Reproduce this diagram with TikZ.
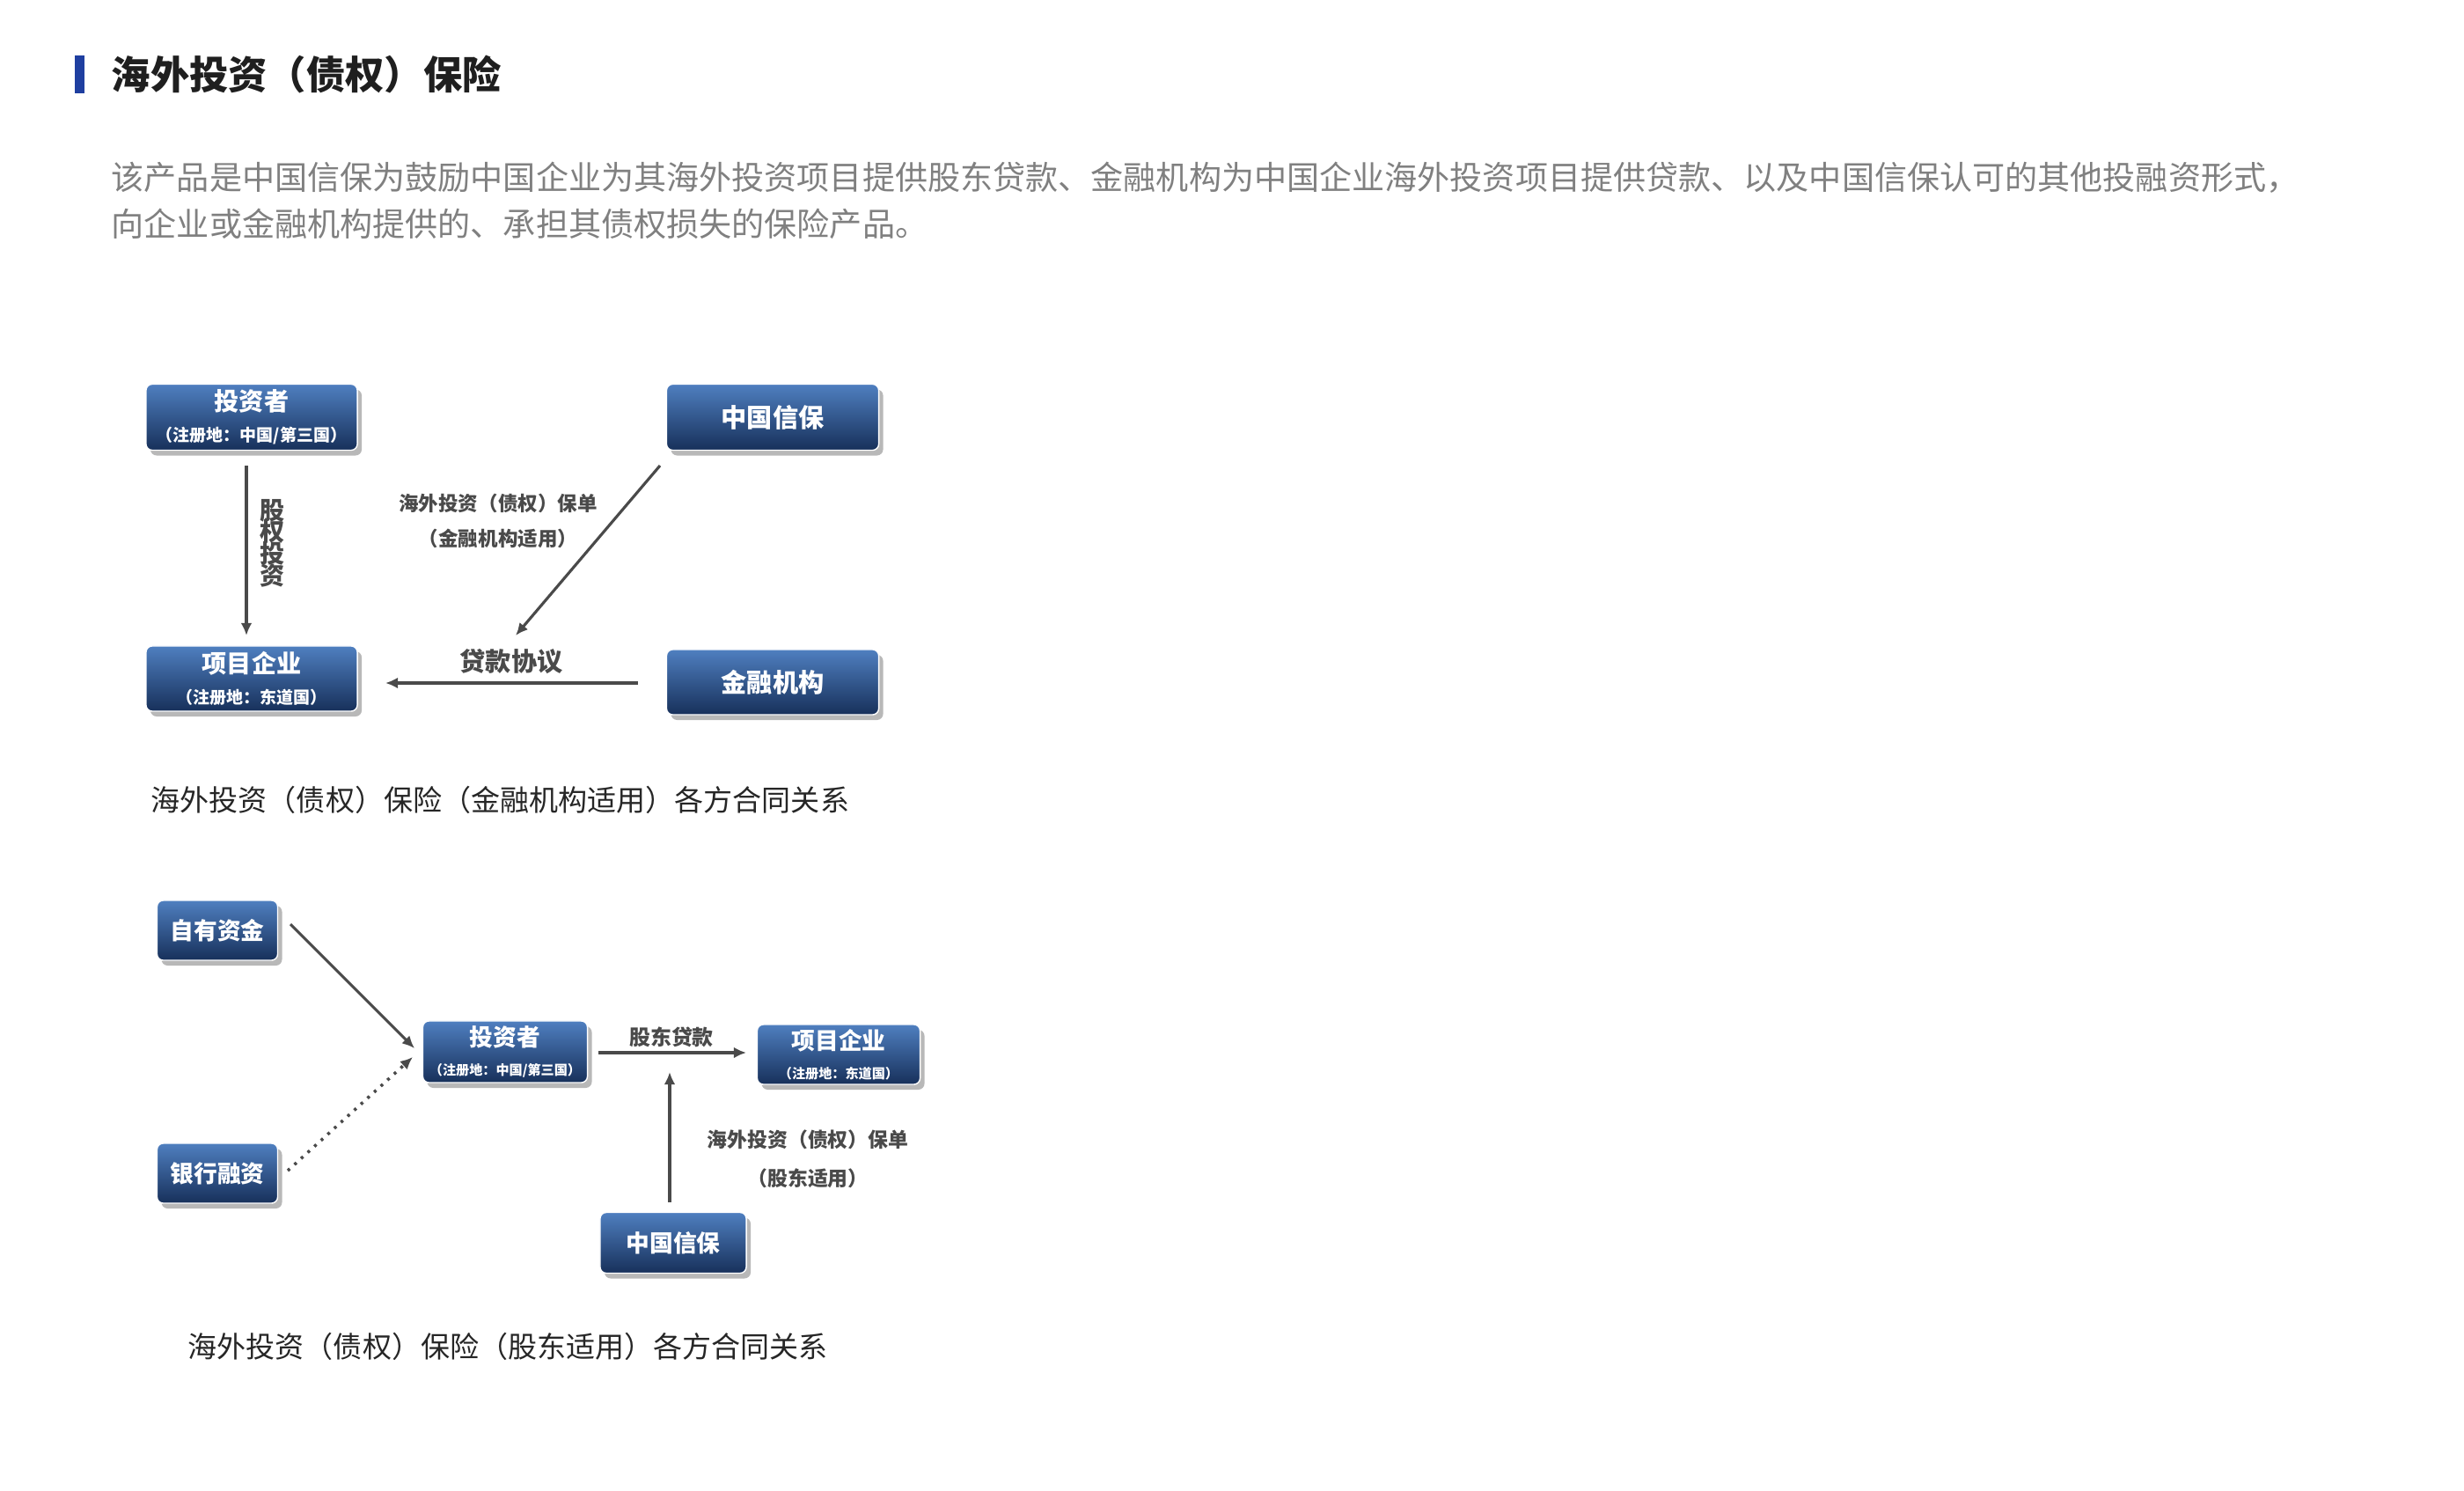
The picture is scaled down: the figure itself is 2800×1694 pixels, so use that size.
\documentclass[tikz,border=0pt]{standalone}
\usepackage{fontspec}
\setmainfont{Noto Sans CJK SC}
\usetikzlibrary{arrows.meta,shadows}
\newcommand{\myfs}[1]{\fontsize{#1}{1.2\dimexpr#1\relax}\selectfont}
\definecolor{boxtop}{HTML}{4F7FC0}
\definecolor{boxbot}{HTML}{17305A}
\definecolor{lab}{HTML}{4A4A4A}
\tikzset{
  bx/.style={rounded corners=2pt, top color=boxtop, bottom color=boxbot, draw=white, line width=0.4pt,
    text=white, align=center, inner sep=0pt,
    drop shadow={shadow xshift=0.05cm, shadow yshift=-0.06cm, fill=black!35, opacity=0.8}},
  arr/.style={draw=lab, line width=0.9pt, -{Latex[length=4pt,width=3.6pt]}},
  lbl/.style={text=lab, align=center, inner sep=0pt},
  captxt/.style={text=black!85, anchor=west, inner sep=0pt}
}
\begin{document}
\begin{tikzpicture}[x=0.01cm,y=-0.01cm]
\useasboundingbox (0,0) rectangle (2800,1694);
% header
\fill[fill={rgb,255:red,31;green,63;blue,160}] (85,63) rectangle (96,106);
\node[captxt, text=black!88, font=\bfseries\myfs{12.6pt}] (title) at (126,85) {海外投资（债权）保险};
\node[captxt, text=black!50, font=\myfs{10.55pt}] (p1) at (126,202) {该产品是中国信保为鼓励中国企业为其海外投资项目提供股东贷款、金融机构为中国企业海外投资项目提供贷款、以及中国信保认可的其他投融资形式，};
\node[captxt, text=black!50, font=\myfs{10.55pt}] (p2) at (126,254) {向企业或金融机构提供的、承担其债权损失的保险产品。};
% top diagram
\node[bx, minimum width=2.40cm, minimum height=0.75cm] (a1) at (286,474) {{\bfseries\myfs{8pt}投资者}\\[-2pt]{\bfseries\myfs{5.4pt}（注册地：中国/第三国）}};
\node[bx, minimum width=2.41cm, minimum height=0.75cm] (a2) at (878,474) {{\bfseries\myfs{8.3pt}中国信保}};
\node[bx, minimum width=2.40cm, minimum height=0.74cm] (a3) at (286,771) {{\bfseries\myfs{8pt}项目企业}\\[-2pt]{\bfseries\myfs{5.4pt}（注册地：东道国）}};
\node[bx, minimum width=2.41cm, minimum height=0.74cm] (a4) at (878,775) {{\bfseries\myfs{8.3pt}金融机构}};
\coordinate (e1s) at (280,529); \coordinate (e1e) at (280,722);
\coordinate (e2s) at (750,529); \coordinate (e2e) at (586,722);
\coordinate (e3s) at (725,776); \coordinate (e3e) at (438,776);
\draw[arr] (e1s) -- (e1e);
\draw[arr] (e2s) -- (e2e);
\draw[arr] (e3s) -- (e3e);
\node[lbl, font=\bfseries\myfs{8pt}] (l1) at (310,617) {股\\[-2.6pt]权\\[-2.6pt]投\\[-2.6pt]资};
\node[lbl, font=\bfseries\myfs{6.4pt}] (l2) at (566,572) {海外投资（债权）保单};
\node[lbl, font=\bfseries\myfs{6.4pt}] (l3) at (566,612) {（金融机构适用）};
\node[lbl, font=\bfseries\myfs{8.3pt}] (l4) at (581,752) {贷款协议};
\node[captxt, font=\myfs{9.4pt}] (c1) at (171,909) {海外投资（债权）保险（金融机构适用）各方合同关系};
% bottom diagram
\node[bx, minimum width=1.37cm, minimum height=0.68cm] (b1) at (247,1057) {{\bfseries\myfs{7.6pt}自有资金}};
\node[bx, minimum width=1.37cm, minimum height=0.68cm] (b2) at (247,1333) {{\bfseries\myfs{7.6pt}银行融资}};
\node[bx, minimum width=1.87cm, minimum height=0.70cm] (b3) at (574,1195) {{\bfseries\myfs{7.6pt}投资者}\\[-2.5pt]{\bfseries\myfs{4.3pt}（注册地：中国/第三国）}};
\node[bx, minimum width=1.85cm, minimum height=0.68cm] (b4) at (953,1198) {{\bfseries\myfs{7.6pt}项目企业}\\[-2.5pt]{\bfseries\myfs{4.3pt}（注册地：东道国）}};
\node[bx, minimum width=1.66cm, minimum height=0.69cm] (b5) at (765,1412) {{\bfseries\myfs{7.6pt}中国信保}};
\coordinate (f1s) at (330,1050); \coordinate (f1e) at (471,1191);
\coordinate (f2s) at (327,1330); \coordinate (f2e) at (469,1201);
\coordinate (f3s) at (680,1196); \coordinate (f3e) at (848,1196);
\coordinate (f4s) at (761,1366); \coordinate (f4e) at (761,1218);
\draw[arr] (f1s) -- (f1e);
\draw[arr, dotted, line width=1pt] (f2s) -- (f2e);
\draw[arr] (f3s) -- (f3e);
\draw[arr] (f4s) -- (f4e);
\node[lbl, font=\bfseries\myfs{6.8pt}] (m1) at (763,1178) {股东贷款};
\node[lbl, font=\bfseries\myfs{6.5pt}] (m2) at (918,1295) {海外投资（债权）保单};
\node[lbl, font=\bfseries\myfs{6.5pt}] (m3) at (918,1339) {（股东适用）};
\node[captxt, font=\myfs{9.4pt}] (c2) at (213,1530) {海外投资（债权）保险（股东适用）各方合同关系};
\end{tikzpicture}
\end{document}
